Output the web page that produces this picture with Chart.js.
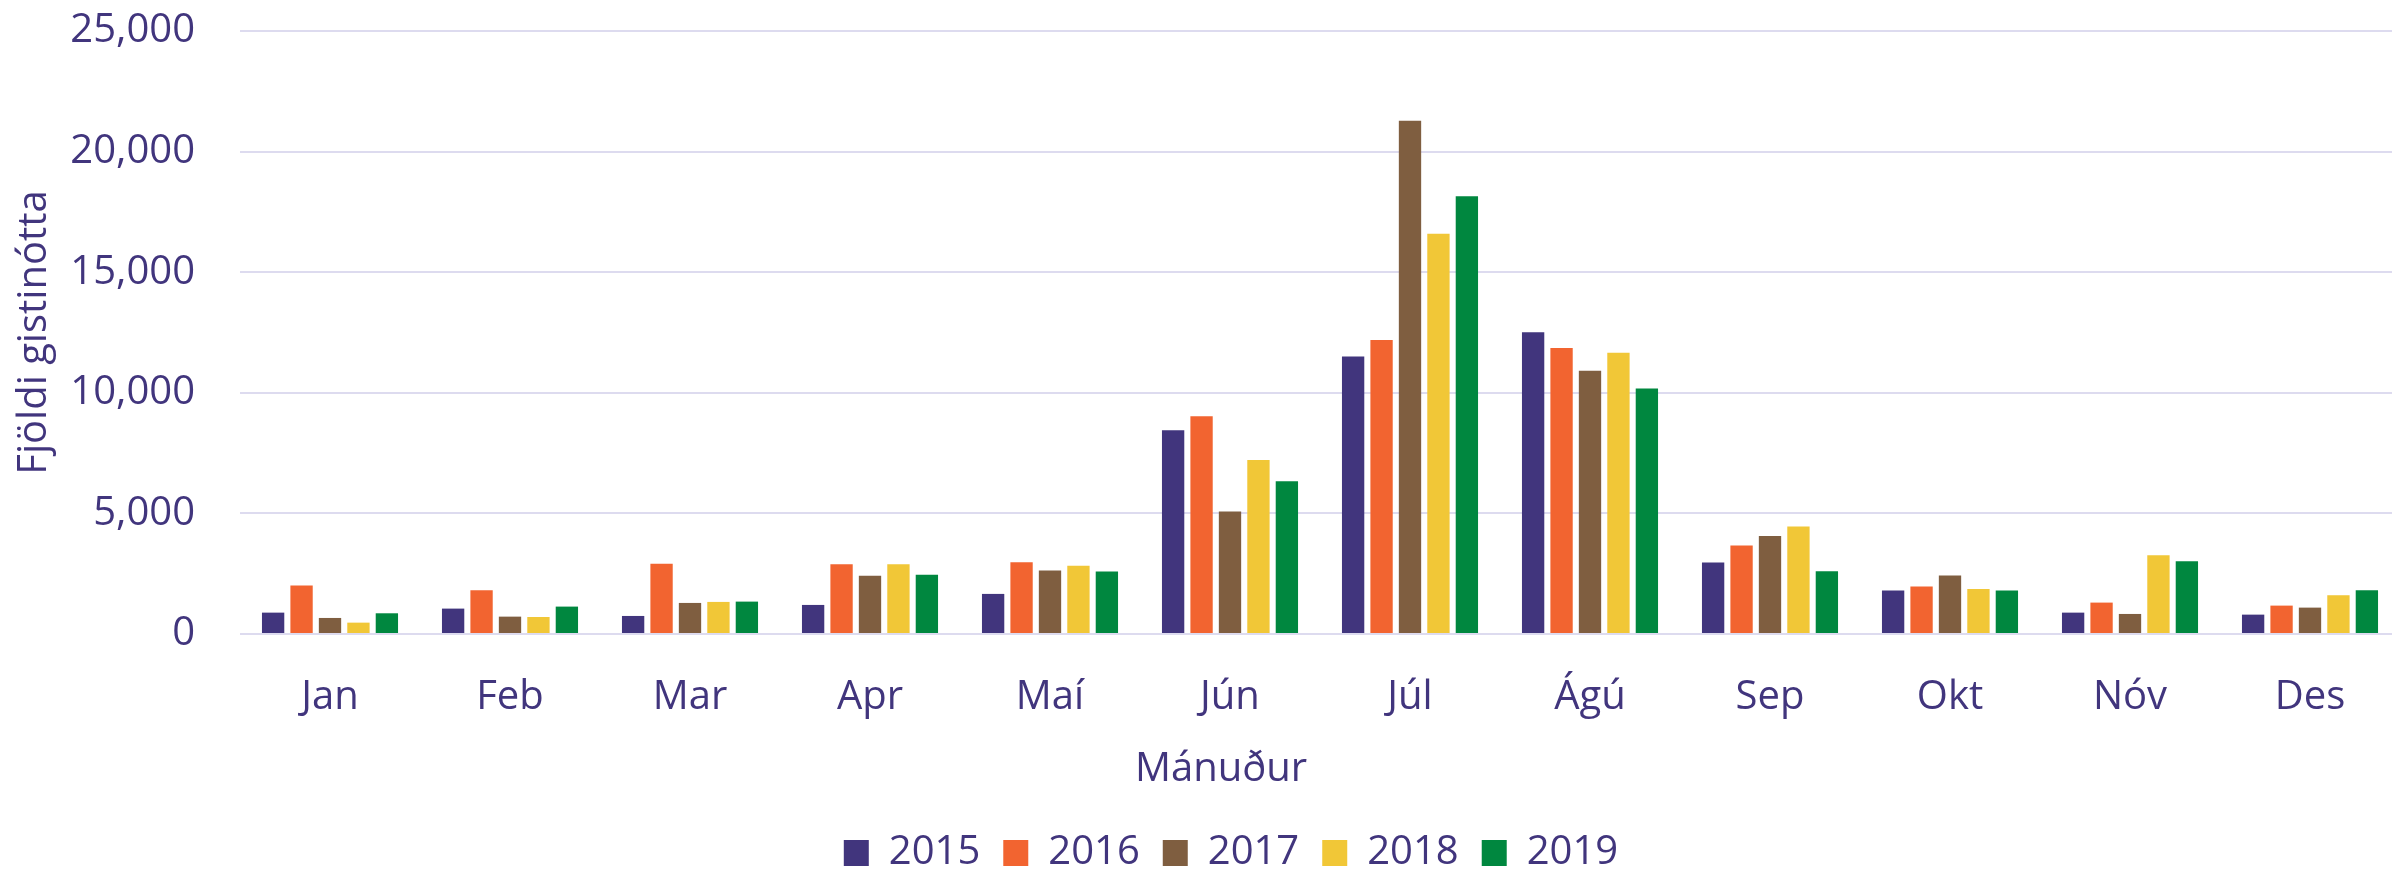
<!DOCTYPE html>
<html><head><meta charset="utf-8">
<script src="https://cdn.jsdelivr.net/npm/chart.js@4.4.1/dist/chart.umd.min.js"></script>
<style>html,body{margin:0;padding:0;background:#fff;overflow:hidden}#wrap{width:2392px;height:870px;overflow:hidden;position:relative}</style>
</head><body>
<div id="wrap"><canvas id="c" width="2400" height="870"></canvas></div>
<script>
const months = ['Jan','Feb','Mar','Apr','Maí','Jún','Júl','Ágú','Sep','Okt','Nóv','Des'];
const years = ['2015','2016','2017','2018','2019'];
const v2015 = [886,1053,748,1205,1662,8449,11510,12507,2964,1801,886,803];
const v2016 = [2008,1814,2909,2895,2978,9030,12188,11856,3670,1967,1302,1177];
const v2017 = [665,720,1288,2410,2632,5083,21281,10914,4058,2424,831,1094];
const v2018 = [471,706,1330,2895,2825,7216,16598,11662,4460,1870,3269,1607];
const v2019 = [859,1136,1343,2452,2590,6330,18154,10180,2604,1801,3019,1814];
const seriesValues = [v2015, v2016, v2017, v2018, v2019];
const colors = ['#41357d','#f26430','#7f5e40','#f1c737','#00873f'];
const yMin = 0, yMax = 25000, yStep = 5000;
const yTitle = 'Fjöldi gistinótta';
const xTitle = 'Mánuður';

const txt = '#41357d';
const FONT = "'Open Sans', sans-serif";
Chart.defaults.font.family = FONT;
Chart.defaults.font.size = 40;
Chart.defaults.color = txt;

const shiftBlocks = {
  id: 'shiftBlocks',
  afterLayout(chart) {
    const lg = chart.legend;
    if (lg) { lg.left += 31; lg.right += 31; }
    const tb = chart.titleBlock;
    if (tb) { tb.left += 21; tb.right += 21; }
  }
};

new Chart(document.getElementById('c'), {
  type: 'bar',
  data: {
    labels: months,
    datasets: years.map((y, i) => ({
      label: y,
      data: seriesValues[i],
      backgroundColor: colors[i],
      borderWidth: 0,
      categoryPercentage: 0.79,
      barPercentage: 0.785
    }))
  },
  plugins: [shiftBlocks],
  options: {
    responsive: false,
    animation: false,
    locale: 'en-US',
    layout: { padding: { left: 0, right: 0, top: 31, bottom: 0 } },
    plugins: {
      tooltip: { enabled: false },
      title: {
        display: true, text: xTitle, position: 'bottom', weight: 500,
        color: txt, font: { size: 40, weight: 'normal' }, padding: { top: 0, bottom: 16 }
      },
      legend: {
        position: 'bottom',
        maxHeight: 60,
        labels: { boxWidth: 25, boxHeight: 26, padding: 23, color: txt, font: { size: 40 } }
      }
    },
    scales: {
      x: {
        grid: { display: false, drawTicks: false },
        border: { display: false },
        ticks: { padding: 40, color: txt, font: { size: 40 } },
        afterFit: (s) => { s.height = 112; s.paddingLeft = 0; s.paddingRight = 0; }
      },
      y: {
        min: yMin, max: yMax,
        ticks: { stepSize: yStep, padding: 45, color: txt, font: { size: 40 } },
        grid: { color: '#dddbef', lineWidth: 2, drawTicks: false },
        border: { display: false },
        title: { display: true, text: yTitle, color: txt, font: { size: 40 }, padding: { top: 11, bottom: 0 } },
        afterFit: (s) => { s.width = 240; s.paddingTop = 0; s.paddingBottom = 0; }
      }
    }
  }
});
</script>
</body></html>
